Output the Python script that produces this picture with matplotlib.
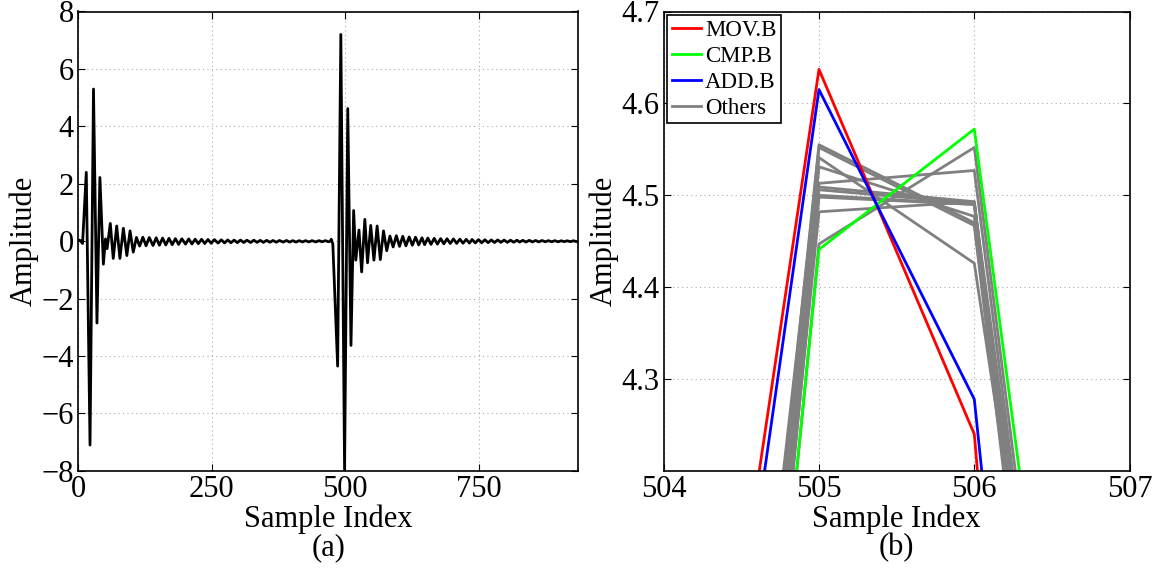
import numpy as np
import matplotlib.pyplot as plt

plt.rcParams['font.family'] = ['Liberation Serif', 'DejaVu Serif']
plt.rcParams['mathtext.fontset'] = 'stix'

# (a) full trace, turning points
burst1_idx = [0, 4, 8, 15, 22, 28.5, 35, 40.5, 47, 51, 54, 60, 65.5, 72, 78, 84.5, 91, 97, 103]
burst1_val = [0.05, 0.02, -0.08, 2.4, -7.1, 5.3, -2.85, 2.22, -0.8, 0.08, -0.26, 0.62, -0.6, 0.53, -0.6,
              0.45, -0.5, 0.36, -0.38]

tail1_idx = [109, 115, 121, 127, 133, 140, 146, 152, 158, 164, 170, 176, 182, 188, 194, 201, 207, 213,
             219, 225, 231, 237, 243, 249, 255, 262, 268, 274, 280, 286, 292, 298, 304, 310, 316, 323,
             329, 335, 341, 347, 353, 359, 365, 371, 377, 384, 390, 396, 402, 408, 414, 420, 426, 432,
             438, 445, 451, 457, 463, 469]
tail1_val = [0.13, -0.17, 0.14, -0.16, 0.13, -0.15, 0.12, -0.14, 0.11, -0.13, 0.1, -0.12, 0.09, -0.11,
             0.085, -0.1, 0.08, -0.095, 0.07, -0.085, 0.065, -0.08, 0.06, -0.07, 0.055, -0.065, 0.05,
             -0.06, 0.045, -0.055, 0.04, -0.05, 0.04, -0.045, 0.035, -0.045, 0.035, -0.04, 0.03, -0.04,
             0.03, -0.035, 0.025, -0.035, 0.025, -0.03, 0.025, -0.03, 0.02, -0.03, 0.02, -0.025, 0.02,
             -0.025, 0.02, -0.025, 0.02, -0.02, 0.02, -0.02]

burst2_idx = [472, 474, 477, 486, 492, 499, 505, 511, 516, 520, 526, 531, 537, 542, 548, 554, 560, 566,
              572, 578, 584]
burst2_val = [0.0, 0.07, -0.1, -4.35, 7.2, -7.95, 4.62, -3.63, 1.07, -0.66, 0.39, -1.07, 0.76, -0.75,
              0.55, -0.66, 0.53, -0.64, 0.36, -0.33, 0.18]

tail2_idx = [590, 596, 602, 608, 614, 620, 626, 632, 638, 644, 649, 655, 661, 667, 673, 679, 685, 691,
             697, 703, 709, 715, 721, 727, 733, 738, 744, 750, 756, 762, 768, 774, 780, 786, 792, 798,
             804, 810, 816, 822, 827, 833, 839, 845, 851, 857, 863, 869, 875, 881, 887, 893, 899, 905,
             911, 916, 922, 928, 934, 937]
tail2_val = [-0.2, 0.19, -0.18, 0.17, -0.16, 0.15, -0.14, 0.14, -0.13, 0.12, -0.12, 0.11, -0.11, 0.1,
             -0.1, 0.09, -0.09, 0.085, -0.08, 0.08, -0.075, 0.07, -0.07, 0.065, -0.065, 0.06, -0.06,
             0.055, -0.055, 0.05, -0.05, 0.045, -0.045, 0.045, -0.04, 0.04, -0.04, 0.035, -0.035,
             0.035, -0.03, 0.03, -0.03, 0.03, -0.025, 0.025, -0.025, 0.025, -0.02, 0.02, -0.02, 0.02,
             -0.02, 0.015, -0.015, 0.015, -0.015, 0.015, -0.015, 0.0]

# (b) zoom around sample 505
samples_b = [504, 505, 506, 507]
mov_b = [3.50, 4.637, 4.240, 2.26]
cmp_b = [2.77, 4.441, 4.572, 3.29]
add_b = [3.43, 4.615, 4.278, 2.65]
others_b = [
    [2.94, 4.555, 4.470, 3.12],
    [2.90, 4.552, 4.467, 3.05],
    [3.05, 4.541, 4.426, 3.30],
    [2.85, 4.531, 4.477, 3.15],
    [2.80, 4.513, 4.527, 3.20],
    [2.95, 4.509, 4.493, 3.10],
    [2.75, 4.506, 4.491, 3.25],
    [2.88, 4.500, 4.490, 3.00],
    [2.70, 4.498, 4.490, 3.18],
    [2.82, 4.482, 4.493, 3.08],
    [2.72, 4.447, 4.552, 3.22],
]

idx_a = burst1_idx + tail1_idx + burst2_idx + tail2_idx
val_a = burst1_val + tail1_val + burst2_val + tail2_val

fig = plt.figure(figsize=(11.58, 5.75), dpi=100)
ax1 = fig.add_axes([0.0676, 0.181, 0.4318, 0.799])
ax2 = fig.add_axes([0.5731, 0.181, 0.4024, 0.799])

fs = 22

ax1.plot(idx_a, val_a, color='black', lw=2)
ax1.set_xlim(0, 937)
ax1.set_ylim(-8, 8)
ax1.set_xticks([0, 250, 500, 750])
ax1.set_yticks(range(-8, 9, 2))
ax1.set_xlabel('Sample Index', fontsize=fs, labelpad=0)
ax1.set_ylabel('Amplitude', fontsize=fs, labelpad=2)

for row in others_b:
    ax2.plot(samples_b, row, color='#808080', lw=2)
ax2.plot(samples_b, mov_b, color='red', lw=2)
ax2.plot(samples_b, cmp_b, color='#00ff00', lw=2)
ax2.plot(samples_b, add_b, color='blue', lw=2)
ax2.set_xlim(504, 507)
ax2.set_ylim(4.2, 4.7)
ax2.set_xticks([504, 505, 506, 507])
ax2.set_yticks([4.3, 4.4, 4.5, 4.6, 4.7])
ax2.set_xlabel('Sample Index', fontsize=fs, labelpad=0)
ax2.set_ylabel('Amplitude', fontsize=fs, labelpad=2)

handles = [plt.Line2D([], [], color=c, lw=2) for c in ['red', '#00ff00', 'blue', '#808080']]
leg = ax2.legend(handles, ['MOV.B', 'CMP.B', 'ADD.B', 'Others'], loc='upper left', fontsize=16.5,
                 fancybox=False, edgecolor='black', framealpha=1, borderaxespad=0.15,
                 handlelength=1.3, handletextpad=0.15, labelspacing=0.22, borderpad=0.2)
leg.get_frame().set_linewidth(1.2)

for ax in (ax1, ax2):
    ax.grid(True, linestyle=(0, (1, 3)), color='#aaaaaa', lw=0.8)
    ax.tick_params(direction='in', top=True, right=True, length=5, labelsize=fs, pad=3)
    for s in ax.spines.values():
        s.set_linewidth(1.2)

fig.text(0.2835, 0.047, '(a)', fontsize=fs, ha='center', va='center')
fig.text(0.7745, 0.047, '(b)', fontsize=fs, ha='center', va='center')

fig.savefig('out.png', dpi=100)
